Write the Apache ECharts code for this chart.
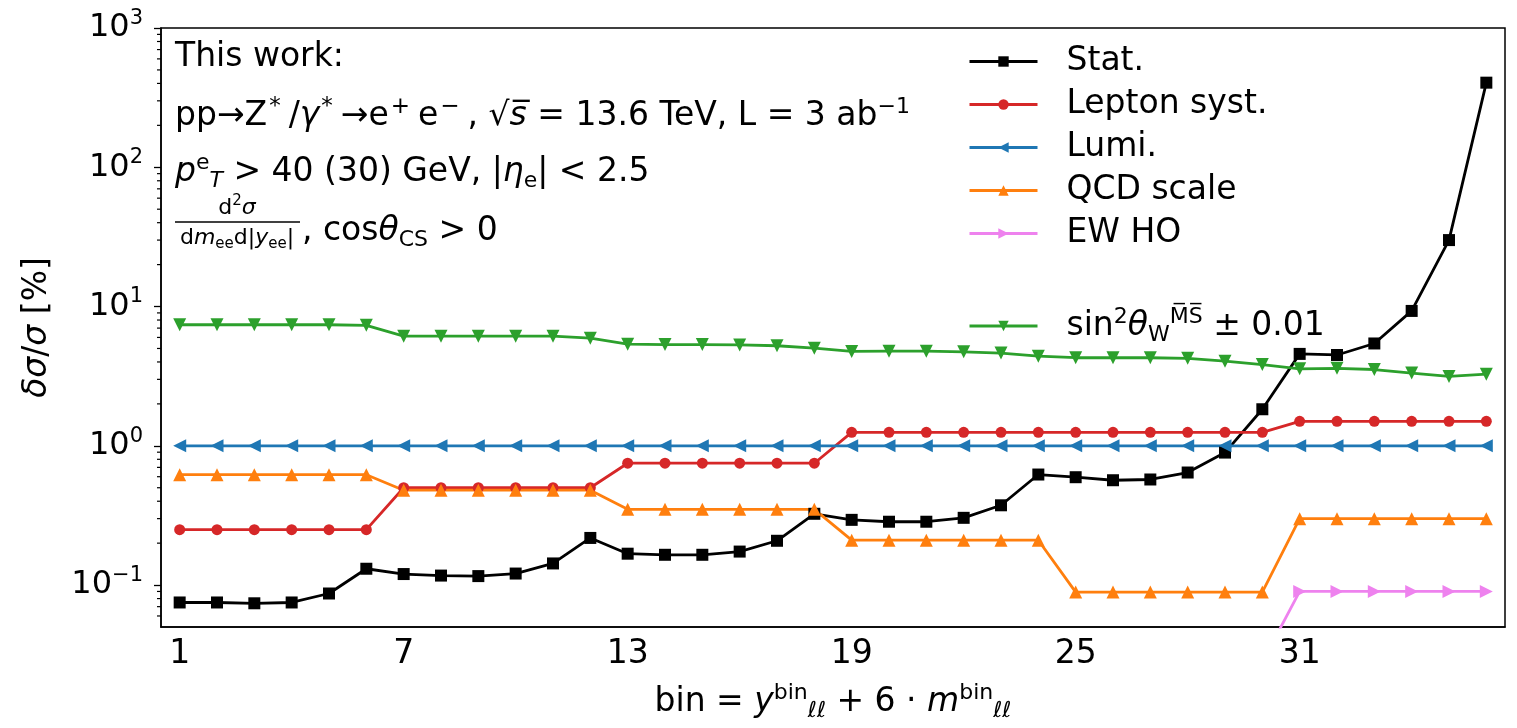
<!DOCTYPE html>
<html>
<head>
<meta charset="utf-8">
<script src="https://cdn.jsdelivr.net/npm/echarts@6/dist/echarts.min.js"></script>
<style>
  html, body { margin: 0; padding: 0; background: #fff; }
  #chart { width: 1517px; height: 728px; }
</style>
</head>
<body>
<div id="chart"></div>
<script>
// bins on the x axis
const bins = ['1','2','3','4','5','6','7','8','9','10','11','12','13','14','15','16','17','18',
              '19','20','21','22','23','24','25','26','27','28','29','30','31','32','33','34','35','36'];

// relative uncertainties in %
const stat = [0.075, 0.075, 0.074, 0.075, 0.087, 0.131, 0.120, 0.117, 0.116, 0.121, 0.143, 0.218,
              0.168, 0.165, 0.165, 0.174, 0.208, 0.325, 0.294, 0.285, 0.285, 0.304, 0.374, 0.622,
              0.595, 0.566, 0.573, 0.643, 0.894, 1.83, 4.57, 4.49, 5.43, 9.3, 30.0, 405];
const lepton = [0.25, 0.25, 0.25, 0.25, 0.25, 0.25, 0.5, 0.5, 0.5, 0.5, 0.5, 0.5,
                0.75, 0.75, 0.75, 0.75, 0.75, 0.75, 1.25, 1.25, 1.25, 1.25, 1.25, 1.25,
                1.25, 1.25, 1.25, 1.25, 1.25, 1.25, 1.5, 1.5, 1.5, 1.5, 1.5, 1.5];
const lumi = [1, 1, 1, 1, 1, 1, 1, 1, 1, 1, 1, 1, 1, 1, 1, 1, 1, 1,
              1, 1, 1, 1, 1, 1, 1, 1, 1, 1, 1, 1, 1, 1, 1, 1, 1, 1];
const qcd = [0.62, 0.62, 0.62, 0.62, 0.62, 0.62, 0.48, 0.48, 0.48, 0.48, 0.48, 0.48,
             0.35, 0.35, 0.35, 0.35, 0.35, 0.35, 0.21, 0.21, 0.21, 0.21, 0.21, 0.21,
             0.089, 0.089, 0.089, 0.089, 0.089, 0.089, 0.3, 0.3, 0.3, 0.3, 0.3, 0.3];
const ewho = [null, null, null, null, null, null, null, null, null, null, null, null,
              null, null, null, null, null, null, null, null, null, null, null, null,
              null, null, null, null, null, 0.028, 0.09, 0.09, 0.09, 0.09, 0.09, 0.09];
const sinw = [7.4, 7.4, 7.4, 7.4, 7.4, 7.33, 6.13, 6.13, 6.13, 6.13, 6.13, 5.93,
              5.37, 5.33, 5.33, 5.3, 5.23, 5.02, 4.76, 4.78, 4.78, 4.73, 4.63, 4.4,
              4.29, 4.29, 4.29, 4.25, 4.05, 3.83, 3.57, 3.6, 3.53, 3.33, 3.15, 3.27];

const FONT = 'DejaVu Sans';

// log minor ticks (2..9 in each decade)
const minorTicks = [];
for (let k = -2; k <= 2; k++) {
  for (let m = 2; m <= 9; m++) {
    const v = m * Math.pow(10, k);
    if (v > 0.05 && v < 1000) minorTicks.push([0, v]);
  }
}

const rich = {
  t:  { fontFamily: FONT, fontSize: 33, lineHeight: 40, color: '#000' },
  it: { fontFamily: FONT, fontSize: 33, lineHeight: 40, color: '#000', fontStyle: 'italic' },
  sp: { fontFamily: FONT, fontSize: 22, lineHeight: 22, color: '#000', verticalAlign: 'top' },
  spw: { fontFamily: FONT, fontSize: 23, lineHeight: 22, color: '#000', verticalAlign: 'top', padding: [0, 8, 0, 2] },
  sb: { fontFamily: FONT, fontSize: 22, lineHeight: 25, color: '#000', verticalAlign: 'bottom' },
  sbi: { fontFamily: FONT, fontSize: 22, lineHeight: 25, color: '#000', verticalAlign: 'bottom', fontStyle: 'italic' },
  t2: { fontFamily: FONT, fontSize: 22, lineHeight: 28, color: '#000' },
  it2: { fontFamily: FONT, fontSize: 22, lineHeight: 28, color: '#000', fontStyle: 'italic' },
  sp2: { fontFamily: FONT, fontSize: 15, lineHeight: 15, color: '#000', verticalAlign: 'top' },
  sb2: { fontFamily: FONT, fontSize: 15, lineHeight: 17, color: '#000', verticalAlign: 'bottom' }
};

const legendNames = {
  'sinw': '{t|sin}{sp|2}{it|θ}{sb|W}{sp|M\u0305S\u0305}{t| ± 0.01}'
};

function lineSeries(name, data, color, symbol, rotate, size) {
  return {
    type: 'line', name: name, data: data,
    symbol: symbol, symbolRotate: rotate, symbolSize: size,
    itemStyle: { color: color },
    lineStyle: { color: color, width: 2.8 },
    emphasis: { disabled: true },
    clip: true, animation: false
  };
}

function legendBox(top, names) {
  return {
    orient: 'vertical', left: 963, top: top,
    itemWidth: 68, itemHeight: 13, itemGap: 10,
    lineStyle: { width: 3 },
    data: names,
    formatter: function (name) { return legendNames[name] || name; },
    textStyle: { fontFamily: FONT, fontSize: 33, color: '#000', padding: [0, 0, 0, 24], rich: rich }
  };
}

const chart = echarts.init(document.getElementById('chart'));
chart.setOption({
  animation: false,
  grid: { left: 161, right: 12, top: 28, bottom: 101, show: true, borderColor: '#000', borderWidth: 1.5 },
  xAxis: {
    type: 'category', data: bins, boundaryGap: true,
    axisLine: { lineStyle: { color: '#000', width: 1.5 } },
    axisTick: { alignWithLabel: true, interval: 5, length: 7, lineStyle: { color: '#000', width: 1.3 } },
    axisLabel: { interval: 5, fontFamily: FONT, fontSize: 33, color: '#000', margin: 11 },
    splitLine: { show: false },
    name: '{t|bin = }{it|y}{sp|bin}{sbi|ℓℓ}{t| + 6 · }{it|m}{sp|bin}{sbi|ℓℓ}',
    nameLocation: 'middle', nameGap: 55,
    nameTextStyle: { rich: rich }
  },
  yAxis: {
    type: 'log', logBase: 10, min: 0.05, max: 1000,
    axisLine: { show: true, lineStyle: { color: '#000', width: 1.5 } },
    axisTick: { show: true, length: 7, lineStyle: { color: '#000', width: 1.3 } },
    axisLabel: {
      color: '#000', margin: 18, showMinLabel: false,
      formatter: function (v) {
        const e = Math.round(Math.log10(v));
        if (Math.abs(v - Math.pow(10, e)) > 1e-6 * Math.pow(10, e)) return '';
        return '{b|10}{s|' + (e < 0 ? '−' + (-e) : e) + '}';
      },
      rich: {
        b: { fontFamily: FONT, fontSize: 32, lineHeight: 40, color: '#000' },
        s: { fontFamily: FONT, fontSize: 21, lineHeight: 20, color: '#000', verticalAlign: 'top' }
      }
    },
    splitLine: { show: false },
    name: '{it|δσ}{t|/}{it|σ}{t| [%]}',
    nameLocation: 'middle', nameGap: 104, nameRotate: 90,
    nameTextStyle: { rich: rich }
  },
  legend: [
    legendBox(40, ['Stat.', 'Lepton syst.', 'Lumi.', 'QCD scale', 'EW HO']),
    legendBox(301, ['sinw'])
  ],
  graphic: [
    { type: 'text', x: 175, y: 57, style: { text: 'This work:', font: '33px "DejaVu Sans"', fill: '#000', verticalAlign: 'middle' } },
    { type: 'text', x: 175, y: 116, style: {
        text: '{t|pp→Z}{spw|*}{t|/}{it|γ}{spw|*}{t|→e}{spw|+}{t|e}{spw|−}{t|, √}{it|s\u0305}{t| = 13.6 TeV, L = 3 ab}{sp|−1}',
        rich: rich, verticalAlign: 'middle' } },
    { type: 'text', x: 175, y: 172, style: {
        text: '{it|p}{sp|e}{sbi|T}{t| > 40 (30) GeV, |}{it|η}{sb|e}{t|| < 2.5}',
        rich: rich, verticalAlign: 'middle' } },
    { type: 'text', x: 237, y: 208, style: {
        text: '{t2|d}{sp2|2}{it2|σ}', rich: rich, align: 'center', verticalAlign: 'middle' } },
    { type: 'line', shape: { x1: 175, y1: 222, x2: 300, y2: 222 }, style: { stroke: '#000', lineWidth: 1.5 } },
    { type: 'text', x: 237, y: 238, style: {
        text: '{t2|d}{it2|m}{sb2|ee}{t2|d|}{it2|y}{sb2|ee}{t2||}', rich: rich, align: 'center', verticalAlign: 'middle' } },
    { type: 'text', x: 302, y: 231, style: {
        text: '{t|, cos}{it|θ}{sb|CS}{t| > 0}', rich: rich, verticalAlign: 'middle' } }
  ],
  series: [
    lineSeries('Stat.', stat, '#000000', 'rect', 0, 12),
    lineSeries('Lepton syst.', lepton, '#d62728', 'circle', 0, 11),
    lineSeries('Lumi.', lumi, '#1f77b4', 'triangle', 90, 13),
    lineSeries('QCD scale', qcd, '#ff7f0e', 'triangle', 0, 13),
    lineSeries('EW HO', ewho, '#ee82ee', 'triangle', -90, 13),
    lineSeries('sinw', sinw, '#2ca02c', 'triangle', 180, 13),
    {
      type: 'custom', silent: true, clip: false, animation: false,
      data: minorTicks,
      renderItem: function (params, api) {
        const y = api.coord([0, api.value(1)])[1];
        const x0 = params.coordSys.x;
        return { type: 'line', shape: { x1: x0 - 4, y1: y, x2: x0, y2: y }, style: { stroke: '#000', lineWidth: 1.2 } };
      }
    }
  ]
});
</script>
</body>
</html>
